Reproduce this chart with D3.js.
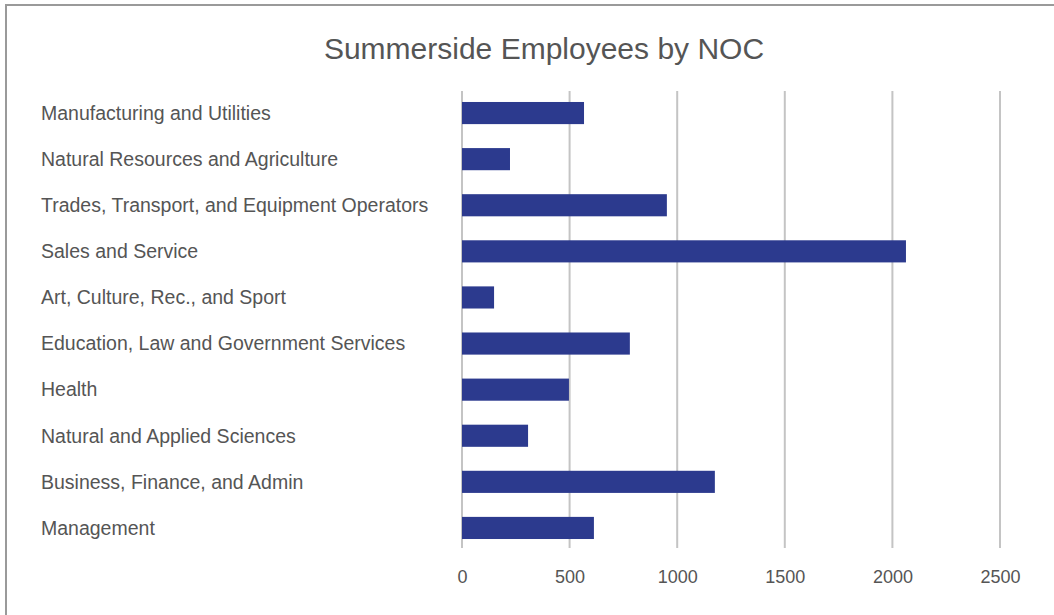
<!DOCTYPE html>
<html>
<head>
<meta charset="utf-8">
<script src="https://cdn.jsdelivr.net/npm/d3@7/dist/d3.min.js"></script>
<style>
  html, body { margin: 0; padding: 0; background: #fff; }
  svg { display: block; font-family: "Liberation Sans", Arial, Helvetica, sans-serif; }
</style>
</head>
<body>
<svg id="chart" width="1054" height="615"></svg>
<script>
// Occupational groups (National Occupational Classification), top to bottom
const categories = [
  "Manufacturing and Utilities",
  "Natural Resources and Agriculture",
  "Trades, Transport, and Equipment Operators",
  "Sales and Service",
  "Art, Culture, Rec., and Sport",
  "Education, Law and Government Services",
  "Health",
  "Natural and Applied Sciences",
  "Business, Finance, and Admin",
  "Management"
];
// Number of employees in each group
const employees = [567, 223, 952, 2063, 149, 780, 497, 307, 1175, 613];
const tickValues = [0, 500, 1000, 1500, 2000, 2500];
const title = "Summerside Employees by NOC";

const svg = d3.select("#chart");

// outer frame (only top and left edges fall inside the canvas)
svg.append("rect")
  .attr("x", 6).attr("y", 5)
  .attr("width", 1100).attr("height", 700)
  .attr("fill", "none")
  .attr("stroke", "#9a9a9a")
  .attr("stroke-width", 2);

svg.append("text")
  .attr("x", 544).attr("y", 59)
  .attr("text-anchor", "middle")
  .attr("font-size", 30)
  .attr("fill", "#555")
  .text(title);

const x = d3.scaleLinear().domain([0, 2500]).range([462, 1000]);
const y = d3.scaleBand().domain(categories).range([90, 551]).paddingInner(0.52).paddingOuter(0.26);

// vertical gridlines
svg.append("g")
  .selectAll("line")
  .data(tickValues)
  .join("line")
  .attr("x1", d => x(d)).attr("x2", d => x(d))
  .attr("y1", 91).attr("y2", 548)
  .attr("stroke", "#c4c4c4")
  .attr("stroke-width", 2);

// x axis labels
const xAxis = d3.axisBottom(x).tickValues(tickValues).tickFormat(d3.format("d")).tickSize(0).tickPadding(0);
const gx = svg.append("g").attr("transform", "translate(0,570)").call(xAxis);
gx.select(".domain").remove();
gx.selectAll("text")
  .attr("font-size", 18)
  .attr("fill", "#555")
  .attr("font-family", "Liberation Sans, Arial, sans-serif");

// category labels
svg.append("g")
  .selectAll("text")
  .data(categories)
  .join("text")
  .attr("x", 41)
  .attr("y", d => y(d) + y.bandwidth() / 2)
  .attr("dy", "0.35em")
  .attr("font-size", 19.5)
  .attr("fill", "#555")
  .text(d => d);

// bars
svg.append("g")
  .selectAll("rect")
  .data(employees)
  .join("rect")
  .attr("x", x(0))
  .attr("y", (d, i) => y(categories[i]))
  .attr("width", d => x(d) - x(0))
  .attr("height", y.bandwidth())
  .attr("fill", "#2c3a8e");
</script>
</body>
</html>
